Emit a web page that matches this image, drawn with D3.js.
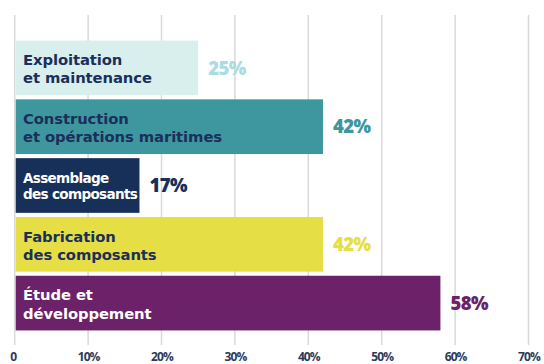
<!DOCTYPE html>
<html>
<head>
<meta charset="utf-8">
<script src="https://cdn.jsdelivr.net/npm/d3@7"></script>
<style>
  html, body { margin: 0; padding: 0; background: #fff; }
  svg { display: block; font-family: "Open Sans", "Noto Sans", sans-serif; }
</style>
</head>
<body>
<svg id="chart" width="544" height="364"></svg>
<script>
// Share of jobs by value-chain stage
const categories = [
  ["Exploitation", "et maintenance"],
  ["Construction", "et opérations maritimes"],
  ["Assemblage", "des composants"],
  ["Fabrication", "des composants"],
  ["Étude et", "développement"]
];
const values = [25, 42, 17, 42, 58];
const barColors = ["#d8efee", "#3e979f", "#17305a", "#e5de44", "#6c2268"];
const valueColors = ["#a9dde2", "#3e979f", "#17305a", "#e5de44", "#6c2268"];
const innerTextColors = ["#1b2f5b", "#1b2f5b", "#ffffff", "#1b2f5b", "#ffffff"];
const tickValues = [0, 10, 20, 30, 40, 50, 60, 70];
const tickLabels = ["0", "10%", "20%", "30%", "40%", "50%", "60%", "70%"];

const svg = d3.select("#chart");

const x = d3.scaleLinear().domain([0, 70]).range([14.7, 528.5]);
const y = d3.scaleBand()
  .domain(d3.range(categories.length))
  .range([38.5, 332.5])
  .paddingInner(0.07)
  .paddingOuter(0.035);

// vertical gridlines
svg.append("g")
  .selectAll("line")
  .data(tickValues)
  .join("line")
  .attr("x1", d => x(d)).attr("x2", d => x(d))
  .attr("y1", 15).attr("y2", 345)
  .attr("stroke", "#d9d9d9")
  .attr("stroke-width", 1.5);

// tick labels
const axis = d3.axisBottom(x)
  .tickValues(tickValues)
  .tickFormat((d, i) => tickLabels[i])
  .tickSize(0)
  .tickPadding(0);
const ax = svg.append("g")
  .attr("transform", "translate(0,352.5)")
  .call(axis);
ax.select(".domain").remove();
ax.selectAll("text")
  .attr("font-size", 12)
  .attr("font-weight", 700)
  .attr("letter-spacing", -0.9)
  .attr("fill", "#2b3a5c")
  .attr("font-family", "'Open Sans', sans-serif")
  .attr("dy", "0.71em");
ax.selectAll(".tick").filter(d => d === 0).select("text").attr("dx", -2);

// bars
const rows = svg.append("g").selectAll("g")
  .data(values)
  .join("g");

rows.append("rect")
  .attr("x", x(0) + 1)
  .attr("y", (d, i) => y(i))
  .attr("width", d => x(d) - x(0) - 1)
  .attr("height", y.bandwidth())
  .attr("fill", (d, i) => barColors[i]);

// category labels inside bars, one text element per line
const lineGap = [18, 17.5, 16, 18, 19.5];
rows.each(function (d, i) {
  const g = d3.select(this);
  const cy = y(i) + y.bandwidth() / 2 + 1;
  const tight = i === 2;
  categories[i].forEach((t, j) => {
    g.append("text")
      .attr("x", 23)
      .attr("y", cy + (j === 0 ? -lineGap[i] / 2 : lineGap[i] / 2))
      .attr("dy", "0.36em")
      .attr("font-family", "'DejaVu Sans', sans-serif")
      .attr("font-size", tight ? 13.6 : 14.8)
      .attr("font-weight", 700)
      .attr("letter-spacing", tight ? -0.7 : -0.1)
      .attr("fill", innerTextColors[i])
      .text(t);
  });
});

// value labels
rows.append("text")
  .attr("x", d => x(d) + 10)
  .attr("y", (d, i) => y(i) + y.bandwidth() / 2)
  .attr("dy", "0.36em")
  .attr("fill", (d, i) => valueColors[i])
  .attr("font-size", 18.5)
  .attr("font-weight", 800)
  .attr("letter-spacing", -0.6)
  .text(d => d + "%");
</script>
</body>
</html>
